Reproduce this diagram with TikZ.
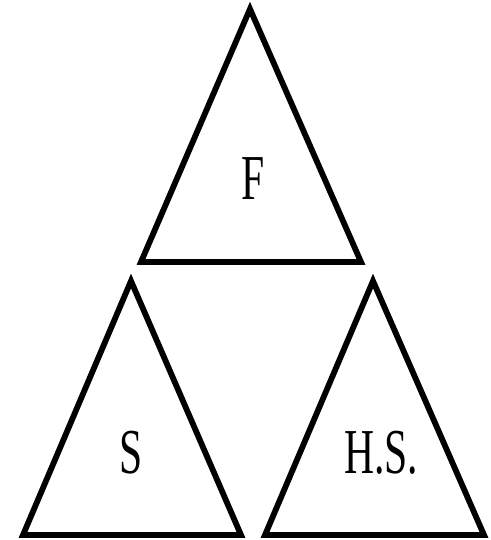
\documentclass[tikz,border=0pt]{standalone}
\usepackage{fontspec}
\setmainfont{Liberation Serif}
\tikzset{
  tri/.style={draw=black, line width=5.8pt, line join=miter, miter limit=10},
  lbl/.style={font=\fontsize{64}{64}\selectfont, inner sep=0pt}
}
\newcommand{\narrowtxt}[1]{\scalebox{0.65}[1]{#1}}
\begin{document}
\begin{tikzpicture}[x=1pt,y=-1pt]
\useasboundingbox (0,0) rectangle (490,540);
\draw[tri] (250,9) -- (361,262) -- (141,262) -- cycle;
\draw[tri] (131,281) -- (241,535) -- (23,535) -- cycle;
\draw[tri] (373,281) -- (484,535) -- (265,535) -- cycle;
\node[lbl] (f) at (253,179) {\narrowtxt{F}};
\node[lbl] (s) at (131,453) {\narrowtxt{S}};
\node[lbl] (hs) at (381,453) {\narrowtxt{H.S.}};
\end{tikzpicture}
\end{document}
